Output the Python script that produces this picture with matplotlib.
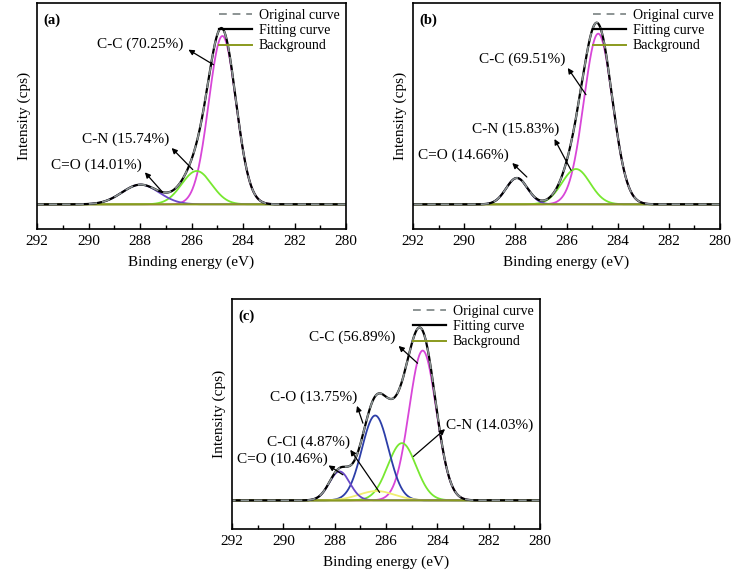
import numpy as np
import matplotlib
matplotlib.use('Agg')
import matplotlib.pyplot as plt
from matplotlib.lines import Line2D

plt.rcParams['font.family'] = ['Liberation Serif', 'DejaVu Serif']

# Binding energy grid (eV)
energy = np.linspace(280, 292, 1201)

# Fitted peak parameters: centre (eV), height (a.u.), sigma (eV)
a_names = ['C-C', 'C-N', 'C=O']
a_centers = [284.80, 285.80, 287.98]
a_heights = [505, 100, 59]
a_sigmas = [0.53, 0.58, 0.72]
a_colors = ['#d846d8', '#77e830', '#6a48c8']

b_names = ['C-C', 'C-N', 'C=O']
b_centers = [284.76, 285.63, 287.94]
b_heights = [512, 106, 79]
b_sigmas = [0.56, 0.55, 0.42]
b_colors = ['#d846d8', '#77e830', '#6a48c8']

c_names = ['C-C', 'C-N', 'C-O', 'C-Cl', 'C=O']
c_centers = [284.57, 285.38, 286.42, 286.36, 287.81]
c_heights = [450, 172, 255, 28, 87]
c_sigmas = [0.53, 0.55, 0.52, 0.70, 0.40]
c_colors = ['#d846d8', '#77e830', '#2c3ea8', '#f0ee70', '#6a48c8']

# annotation labels: text, text position, arrow head, arrow tail
a_notes = [('C-C (70.25%)', (287.98, 481), (286.12, 464), (285.15, 419)),
           ('C-N (15.74%)', (288.55, 196), (286.77, 169), (285.95, 104)),
           ('C=O (14.01%)', (289.69, 117), (287.81, 96), (287.12, 36))]
b_notes = [('C-C (69.51%)', (287.75, 434), (285.95, 409), (285.24, 329)),
           ('C-N (15.83%)', (287.97, 224), (286.47, 196), (285.82, 102)),
           ('C=O (14.66%)', (290.05, 147), (288.12, 124), (287.55, 82))]
c_notes = [('C-C (56.89%)', (287.33, 490), (285.51, 464), (284.77, 412)),
           ('C-O (13.75%)', (288.82, 310), (287.13, 284), (286.90, 232)),
           ('C-Cl (4.87%)', (289.02, 175), (287.39, 152), (286.25, 24)),
           ('C=O (10.46%)', (290.05, 124), (288.24, 105), (287.68, 77)),
           ('C-N (14.03%)', (281.95, 227), (283.70, 214), (284.93, 132))]


def gauss(x, c, h, s):
    return h * np.exp(-0.5 * ((x - c) / s) ** 2)


def draw_panel(ax, tag, centers, heights, sigmas, colors, notes, ylim):
    comps = [gauss(energy, c, h, s) for c, h, s in zip(centers, heights, sigmas)]
    fit = np.sum(comps, axis=0)
    for comp, col in zip(comps, colors):
        ax.plot(energy, comp, color=col, lw=1.3)
    ax.plot(energy, np.zeros_like(energy), color='#8a9a1e', lw=1.5)
    ax.plot(energy, fit, color='black', lw=1.6)
    ax.plot(energy, fit, color='#8c9494', lw=1.2, ls=(0, (5, 3)))

    for txt, tpos, head, tail in notes:
        ax.text(tpos[0], tpos[1], txt, ha='center', va='center', fontsize=11)
        ax.annotate('', xy=head, xytext=tail,
                    arrowprops=dict(arrowstyle='-|>', color='black', lw=0.9,
                                    mutation_scale=8, shrinkA=0, shrinkB=0))

    ax.set_xlim(292, 280)
    ax.set_ylim(*ylim)
    ax.set_xticks(np.arange(280, 293, 2))
    ax.set_xticks(np.arange(281, 292, 2), minor=True)
    ax.tick_params(axis='x', which='both', direction='in', labelsize=11, pad=4)
    ax.tick_params(axis='x', which='major', length=4, width=1)
    ax.tick_params(axis='x', which='minor', length=3, width=1)
    ax.set_yticks([])
    for sp in ax.spines.values():
        sp.set_linewidth(1.2)
    ax.set_xlabel('Binding energy (eV)', fontsize=11, labelpad=6)
    ax.set_ylabel('Intensity (cps)', fontsize=11, labelpad=4)
    ax.text(0.02, 0.955, tag, transform=ax.transAxes, fontsize=10.5,
            fontweight='bold', va='top', ha='left')

    handles = [Line2D([], [], color='#8c9494', lw=1.4, ls=(0, (4, 3))),
               Line2D([], [], color='black', lw=1.6),
               Line2D([], [], color='#8a9a1e', lw=1.4)]
    ax.legend(handles, ['Original curve', 'Fitting curve', 'Background'],
              loc='upper right', frameon=False, fontsize=10, handlelength=2.4,
              handletextpad=0.5, labelspacing=0.15, borderaxespad=0.05)


fig = plt.figure(figsize=(7.32, 5.76), dpi=100)
ax_a = fig.add_axes([37 / 732, 347 / 576, 309 / 732, 226 / 576])
ax_b = fig.add_axes([413 / 732, 347 / 576, 307 / 732, 226 / 576])
ax_c = fig.add_axes([232 / 732, 47 / 576, 308 / 732, 230 / 576])

draw_panel(ax_a, '(a)', a_centers, a_heights, a_sigmas, a_colors, a_notes, (-74, 604))
draw_panel(ax_b, '(b)', b_centers, b_heights, b_sigmas, b_colors, b_notes, (-74, 604))
draw_panel(ax_c, '(c)', c_centers, c_heights, c_sigmas, c_colors, c_notes, (-86, 605))

fig.savefig('out.png', dpi=100)
